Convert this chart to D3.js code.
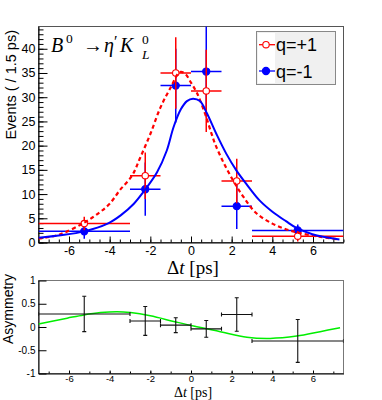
<!DOCTYPE html>
<html>
<head>
<meta charset="utf-8">
<script src="https://d3js.org/d3.v7.min.js"></script>
<style>
  body { margin: 0; background: #fff; }
  text { font-family: "Liberation Sans", Arial, sans-serif; }
  .serif { font-family: "Liberation Serif", "Times New Roman", serif; }
</style>
</head>
<body>
<div id="chart"></div>
<script>
// bins in delta t
var binLo = [-7.5, -3, -1.5, 0, 1.5, 3];
var binHi = [-3, -1.5, 0, 1.5, 3, 7.5];
var binMid = [-5.25, -2.25, -0.75, 0.75, 2.25, 5.25];

// q=+1 (red, open) and q=-1 (blue, filled) events
var redY = [3.9, 13.8, 35.0, 31.3, 12.7, 1.3];
var redErr = [1.4, 4.8, 7.4, 8.5, 4.6, 1.1];
var blueY = [2.3, 11.0, 32.4, 35.3, 7.5, 2.5];
var blueErr = [1.5, 5.5, 7.6, 9.5, 4.7, 1.2];

// fit curves
var redCurveX = [-7.5, -6.5, -5.25, -4.5, -4, -3.5, -2.9, -2.5, -2.0, -1.5, -1.0, -0.55, -0.3, 0, 0.3, 0.7, 1.0, 1.2, 1.6, 2.1, 2.6, 3.2, 4.0, 4.7, 5.3, 6.3, 7.3];
var redCurveY = [0.8, 1.6, 4.1, 6.2, 8.0, 10.8, 13.8, 17.5, 22.4, 27.9, 32.0, 35.2, 34.9, 33.0, 30.8, 26.5, 22.6, 20.2, 16.5, 12.6, 9.3, 6.1, 3.9, 2.7, 2.0, 1.2, 0.6];
var blueCurveX = [-7.5, -6.4, -5.25, -4.1, -3.46, -2.81, -2.24, -1.67, -1.19, -0.86, -0.5, -0.2, 0.1, 0.44, 0.77, 1.25, 1.74, 2.23, 2.72, 3.37, 4.02, 4.67, 5.19, 5.97, 7.3];
var blueCurveY = [1.0, 1.5, 2.3, 3.9, 5.6, 8.0, 11.0, 14.5, 19.0, 23.8, 27.5, 29.2, 29.7, 29.2, 26.8, 22.4, 18.3, 14.9, 12.1, 8.7, 6.3, 4.4, 3.0, 1.7, 0.6];

// asymmetry
var asymY = [0.28, 0.13, 0.04, -0.04, 0.27, -0.30];
var asymErr = [0.38, 0.31, 0.16, 0.18, 0.36, 0.46];
var asymCurveX = [-7.5, -6.09, -5.27, -4.45, -3.63, -2.98, -2.0, -0.85, 0.13, 1.44, 2.75, 3.89, 5.2, 6.35, 7.33];
var asymCurveY = [0.065, 0.19, 0.26, 0.31, 0.33, 0.31, 0.24, 0.12, 0.02, -0.10, -0.22, -0.245, -0.195, -0.10, -0.015];

var topTicks = [0, 5, 10, 15, 20, 25, 30, 35, 40];
var xTicks = [-6, -4, -2, 0, 2, 4, 6];
var asymTicks = [-1, -0.5, 0, 0.5, 1];

var red = "#ff0000", blue = "#0000ff", green = "#00ee00";

var svg = d3.select("#chart").append("svg")
    .attr("width", 382).attr("height", 400);

var x = d3.scaleLinear().domain([-7.5, 7.5]).range([38.5, 343.5]);
var y = d3.scaleLinear().domain([0, 44.6]).range([242.5, 26.5]);
var ya = d3.scaleLinear().domain([-1, 1]).range([373.5, 280.5]);

function fmt(d) { return String(d); }

// ---------- top panel ----------
var topG = svg.append("g");
topG.append("rect").attr("x", 38.5).attr("y", 26.5).attr("width", 305).attr("height", 216)
    .attr("fill", "none").attr("stroke", "#555");

// minor ticks
topG.append("g").attr("transform", "translate(38.5,0)")
    .call(d3.axisLeft(y).tickValues(d3.range(0, 45, 1)).tickSizeInner(-5).tickSizeOuter(0).tickFormat(""))
    .call(g => g.select(".domain").remove());
topG.append("g").attr("transform", "translate(38.5,0)")
    .call(d3.axisLeft(y).tickValues(topTicks).tickSizeInner(-9).tickSizeOuter(0).tickPadding(3).tickFormat(fmt))
    .call(g => g.selectAll("text").style("font-size", "12.5px").attr("fill", "#000"));
topG.append("g").attr("transform", "translate(0,242.5)")
    .call(d3.axisBottom(x).tickValues(d3.range(-7.5, 7.6, 0.5)).tickSizeInner(-3).tickSizeOuter(0).tickFormat(""))
    .call(g => g.select(".domain").remove());
topG.append("g").attr("transform", "translate(0,242.5)")
    .call(d3.axisBottom(x).tickValues(xTicks).tickSizeInner(-6).tickSizeOuter(0).tickPadding(4).tickFormat(fmt))
    .call(g => g.selectAll("text").style("font-size", "12.5px").attr("fill", "#000"));

svg.append("clipPath").attr("id", "clipTop").append("rect")
    .attr("x", 38.5).attr("y", 26.5).attr("width", 305).attr("height", 216);

var plot = topG.append("g").attr("clip-path", "url(#clipTop)");

function drawSet(vals, errs, color, filled) {
    var g = plot.append("g");
    vals.forEach(function (v, i) {
        g.append("line").attr("x1", x(binLo[i])).attr("x2", x(binHi[i]))
            .attr("y1", y(v)).attr("y2", y(v)).attr("stroke", color).attr("stroke-width", 1.5);
        g.append("line").attr("x1", x(binMid[i])).attr("x2", x(binMid[i]))
            .attr("y1", y(v - errs[i])).attr("y2", y(v + errs[i])).attr("stroke", color).attr("stroke-width", 1.5);
        g.append("circle").attr("cx", x(binMid[i])).attr("cy", y(v)).attr("r", filled ? 3.6 : 3.2)
            .attr("fill", filled ? color : "#fff").attr("stroke", color).attr("stroke-width", 1.1);
    });
}
drawSet(blueY, blueErr, blue, true);
drawSet(redY, redErr, red, false);

var line = d3.line().curve(d3.curveCatmullRom.alpha(0.5));
plot.append("path").attr("d", line(redCurveX.map((d, i) => [x(d), y(redCurveY[i])])))
    .attr("fill", "none").attr("stroke", red).attr("stroke-width", 2.2).attr("stroke-dasharray", "4,3");
plot.append("path").attr("d", line(blueCurveX.map((d, i) => [x(d), y(blueCurveY[i])])))
    .attr("fill", "none").attr("stroke", blue).attr("stroke-width", 2);

// title B0 -> eta' K0L
var tt = topG.append("g");
tt.append("text").attr("class", "serif").attr("x", 51).attr("y", 52).style("font-size", "20px").style("font-style", "italic").text("B");
tt.append("text").attr("class", "serif").attr("x", 66).attr("y", 43).style("font-size", "13.5px").text("0");
tt.append("text").attr("class", "serif").attr("x", 83).attr("y", 52).style("font-size", "20px").text("\u2192");
tt.append("text").attr("class", "serif").attr("x", 104).attr("y", 52).style("font-size", "20px").style("font-style", "italic").text("\u03b7");
tt.append("text").attr("class", "serif").attr("x", 114).attr("y", 47).style("font-size", "16px").text("\u2032");
tt.append("text").attr("class", "serif").attr("x", 120).attr("y", 52).style("font-size", "20px").style("font-style", "italic").text("K");
tt.append("text").attr("class", "serif").attr("x", 142).attr("y", 44).style("font-size", "13.5px").text("0");
tt.append("text").attr("class", "serif").attr("x", 142).attr("y", 59).style("font-size", "13.5px").style("font-style", "italic").text("L");

// legend
var lg = topG.append("g");
lg.append("rect").attr("x", 256.5).attr("y", 31.5).attr("width", 79).attr("height", 53)
    .attr("fill", "#f0f0f0").attr("stroke", "#888");
lg.append("rect").attr("x", 258).attr("y", 33).attr("width", 17).attr("height", 50).attr("fill", "#fff");
var legItems = [{ label: "q=+1", color: red, filled: false, yy: 44.7 }, { label: "q=-1", color: blue, filled: true, yy: 71 }];
legItems.forEach(function (d) {
    lg.append("line").attr("x1", 259).attr("x2", 275).attr("y1", d.yy).attr("y2", d.yy)
        .attr("stroke", d.color).attr("stroke-width", 1.3);
    lg.append("circle").attr("cx", 266).attr("cy", d.yy).attr("r", d.filled ? 3.6 : 3.2)
        .attr("fill", d.filled ? d.color : "#fff").attr("stroke", d.color).attr("stroke-width", 1.1);
    lg.append("text").attr("x", 276).attr("y", d.yy + 6.5).style("font-size", "18px").text(d.label);
});

// axis titles
topG.append("text").attr("transform", "translate(16,30) rotate(-90)").attr("text-anchor", "end")
    .style("font-size", "14.5px").text("Events ( / 1.5 ps)");
var xt = topG.append("text").attr("class", "serif").attr("x", 193).attr("y", 274).attr("text-anchor", "middle").style("font-size", "19px");
xt.append("tspan").text("\u0394");
xt.append("tspan").style("font-style", "italic").text("t");
xt.append("tspan").text(" [ps]");

// ---------- bottom panel ----------
var bot = svg.append("g");
bot.append("rect").attr("x", 38.5).attr("y", 280.5).attr("width", 305).attr("height", 93)
    .attr("fill", "none").attr("stroke", "#777");
bot.append("g").attr("transform", "translate(38.5,0)")
    .call(d3.axisLeft(ya).tickValues(asymTicks).tickSizeInner(-8).tickSizeOuter(0).tickPadding(3).tickFormat(fmt))
    .call(g => g.selectAll("text").style("font-size", "10px").attr("fill", "#000"));
bot.append("g").attr("transform", "translate(0,373.5)")
    .call(d3.axisBottom(x).tickValues(d3.range(-7, 7.1, 1)).tickSizeInner(-2).tickSizeOuter(0).tickFormat(""))
    .call(g => g.select(".domain").remove());
bot.append("g").attr("transform", "translate(0,373.5)")
    .call(d3.axisBottom(x).tickValues(xTicks).tickSizeInner(-3).tickSizeOuter(0).tickPadding(2).tickFormat(fmt))
    .call(g => g.selectAll("text").style("font-size", "9.5px").attr("fill", "#000"));

svg.append("clipPath").attr("id", "clipBot").append("rect")
    .attr("x", 38.5).attr("y", 280.5).attr("width", 305).attr("height", 93);
var bplot = bot.append("g").attr("clip-path", "url(#clipBot)");

bplot.append("path").attr("d", line(asymCurveX.map((d, i) => [x(d), ya(asymCurveY[i])])))
    .attr("fill", "none").attr("stroke", green).attr("stroke-width", 1.5);

function seg(x1, y1, x2, y2) {
    bplot.append("line").attr("x1", x1).attr("y1", y1).attr("x2", x2).attr("y2", y2)
        .attr("stroke", "#111").attr("stroke-width", 1.1);
}
asymY.forEach(function (v, i) {
    var cx = x(binMid[i]), cy = ya(v);
    var hi = ya(v + asymErr[i]), lo = ya(v - asymErr[i]);
    var l = x(binLo[i]), r = x(binHi[i]);
    seg(l, cy, r, cy);
    seg(cx, hi, cx, lo);
    seg(l, cy - 2, l, cy + 2);
    seg(r, cy - 2, r, cy + 2);
    seg(cx - 2, hi, cx + 2, hi);
    seg(cx - 2, lo, cx + 2, lo);
});

bot.append("text").attr("transform", "translate(12.5,274) rotate(-90)").attr("text-anchor", "end")
    .style("font-size", "14px").text("Asymmetry");
var xt2 = bot.append("text").attr("class", "serif").attr("x", 193).attr("y", 397).attr("text-anchor", "middle").style("font-size", "14px");
xt2.append("tspan").text("\u0394");
xt2.append("tspan").style("font-style", "italic").text("t");
xt2.append("tspan").text(" [ps]");
</script>
</body>
</html>
